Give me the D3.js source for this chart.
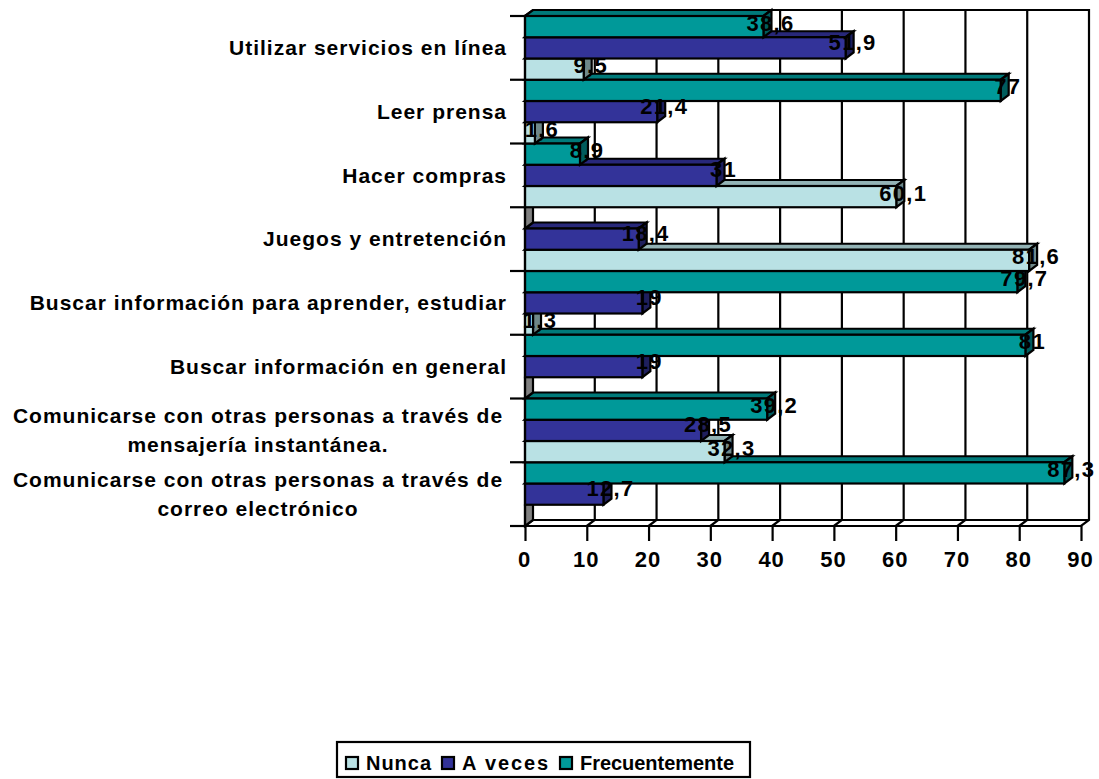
<!DOCTYPE html>
<html>
<head>
<meta charset="utf-8">
<script src="https://cdn.jsdelivr.net/npm/d3@7/dist/d3.min.js"></script>
<style>
  html, body { margin: 0; padding: 0; background: #fff; }
  svg { display: block; }
  text { font-family: "Liberation Sans", Arial, sans-serif; font-weight: bold; fill: #000; }
</style>
</head>
<body>
<svg id="chart" width="1099" height="779"></svg>
<script>
// Survey answers per internet activity, listed from the bottom of the chart upward.
const categories = [
  ["Comunicarse con otras personas a través de", "correo electrónico"],
  ["Comunicarse con otras personas a través de", "mensajería instantánea."],
  ["Buscar información en general"],
  ["Buscar información para aprender, estudiar"],
  ["Juegos y entretención"],
  ["Hacer compras"],
  ["Leer prensa"],
  ["Utilizar servicios en línea"]
];
const nunca          = [0, 32.3, 0, 1.3, 81.6, 60.1, 1.6, 9.5];
const aVeces         = [12.7, 28.5, 19, 19, 18.4, 31, 21.4, 51.9];
const frecuentemente = [87.3, 39.2, 81, 79.7, 0, 8.9, 77, 38.6];
const xTicks = [0, 10, 20, 30, 40, 50, 60, 70, 80, 90];

const series = [
  { name: "Nunca", values: nunca, front: "#B9E1E4", top: "#93B3B5", side: "#6F8889", labelDy: 7, legendX: 345, legendW: 65 },
  { name: "A veces", values: aVeces, front: "#333399", top: "#28287A", side: "#1F1F5C", labelDy: 5, legendX: 441, legendW: 86 },
  { name: "Frecuentemente", values: frecuentemente, front: "#009999", top: "#007A7A", side: "#005C5C", labelDy: 7, legendX: 559, legendW: 154 }
];

const depthX = 8, depthY = 6;
const svg = d3.select("#chart");
const x = d3.scaleLinear().domain([0, 90]).range([525, 1081]);
const yBand = d3.scaleBand().domain(d3.range(categories.length)).range([526, 16]);
// Within a category the first series sits at the bottom
const ySeries = d3.scaleBand().domain(d3.range(series.length)).range([yBand.bandwidth(), 0]);

const stroke = sel => sel.attr("stroke", "#000").attr("stroke-width", 2.2).attr("stroke-linejoin", "miter");
const poly = pts => pts.map(p => p.join(",")).join(" ");

// Back wall and floor
const frame = svg.append("g").attr("fill", "none");
const backTop = 16 - depthY, backBottom = 526 - depthY;
frame.append("polyline").call(stroke)
  .attr("points", poly([[x(0), 16], [x(0) + depthX, backTop], [x(90) + depthX, backTop], [x(90) + depthX, backBottom], [x(90), 526], [x(0), 526]]));
frame.append("polyline").call(stroke)
  .attr("points", poly([[x(0), 526], [x(0) + depthX, backBottom], [x(90) + depthX, backBottom]]));
xTicks.slice(1, -1).forEach(t => {
  frame.append("polyline").call(stroke)
    .attr("points", poly([[x(t) + depthX, backTop], [x(t) + depthX, backBottom], [x(t), 526]]));
});

// Bars: lower rows first so each upper row sits over the one beneath it
const barsLayer = svg.append("g");
categories.forEach((_, c) => {
  series.forEach((s, k) => {
    const v = s.values[c];
    const y0 = yBand(c) + ySeries(k);
    const y1 = y0 + ySeries.bandwidth();
    const xv = x(v);
    const g = barsLayer.append("g");
    if (v > 0) {
      g.append("polygon").call(stroke).attr("fill", s.top)
        .attr("points", poly([[x(0), y0], [x(0) + depthX, y0 - depthY], [xv + depthX, y0 - depthY], [xv, y0]]));
    }
    g.append("polygon").call(stroke).attr("fill", v > 0 ? s.side : "#808080")
      .attr("points", poly([[xv, y0], [xv + depthX, y0 - depthY], [xv + depthX, y1 - depthY], [xv, y1]]));
    if (v > 0) {
      g.append("rect").call(stroke).attr("fill", s.front)
        .attr("x", x(0)).attr("y", y0).attr("width", xv - x(0)).attr("height", y1 - y0);
    }
  });
});

// Value axis
const xAxis = d3.axisBottom(x).tickValues(xTicks).tickSize(15).tickPadding(10).tickFormat(d3.format("d"));
const axisG = svg.append("g").attr("transform", "translate(0,526)").call(xAxis);
axisG.select(".domain").remove();
axisG.selectAll("line").call(stroke);
axisG.selectAll("text").attr("font-family", null).attr("dx", -1).style("font-size", "22px").style("letter-spacing", "1px");

// Category axis
const left = svg.append("g");
left.append("line").call(stroke).attr("x1", x(0)).attr("x2", x(0)).attr("y1", 16).attr("y2", 526);
d3.range(categories.length + 1).forEach(i => {
  const yy = i === categories.length ? 16 : yBand(i) + yBand.bandwidth();
  left.append("line").call(stroke).attr("x1", 510).attr("x2", x(0)).attr("y1", yy).attr("y2", yy);
});
categories.forEach((lines, c) => {
  const cy = yBand(c) + yBand.bandwidth() / 2;
  lines.forEach((line, i) => {
    const two = lines.length === 2;
    left.append("text")
      .attr("x", two ? 258 : 507)
      .attr("y", cy + (two ? (i - 0.5) * 29 : 0))
      .attr("dy", "0.35em")
      .attr("text-anchor", two ? "middle" : "end")
      .style("font-size", "21px")
      .style("letter-spacing", "1px")
      .text(line);
  });
});

// Value labels, written with a decimal comma
const labelFmt = v => String(v).replace(".", ",");
const labels = svg.append("g");
series.forEach((s, k) => {
  s.values.forEach((v, c) => {
    if (v === 0) return;
    labels.append("text")
      .attr("x", x(v) + 7)
      .attr("y", yBand(c) + ySeries(k) + s.labelDy)
      .attr("dy", "0.35em")
      .attr("text-anchor", "middle")
      .style("font-size", "22px")
      .style("letter-spacing", "1.3px")
      .text(labelFmt(v));
  });
});

// Legend
const legend = svg.append("g");
legend.append("rect").call(stroke).attr("fill", "#fff")
  .attr("x", 337).attr("y", 742).attr("width", 413).attr("height", 35);
series.forEach(s => {
  legend.append("rect").call(stroke).attr("fill", s.front)
    .attr("x", s.legendX + 1).attr("y", 757).attr("width", 12).attr("height", 12);
  legend.append("text")
    .attr("x", s.legendX + 21).attr("y", 763).attr("dy", "0.35em")
    .attr("textLength", s.legendW).attr("lengthAdjust", "spacing")
    .style("font-size", "20px")
    .text(s.name);
});
</script>
</body>
</html>
